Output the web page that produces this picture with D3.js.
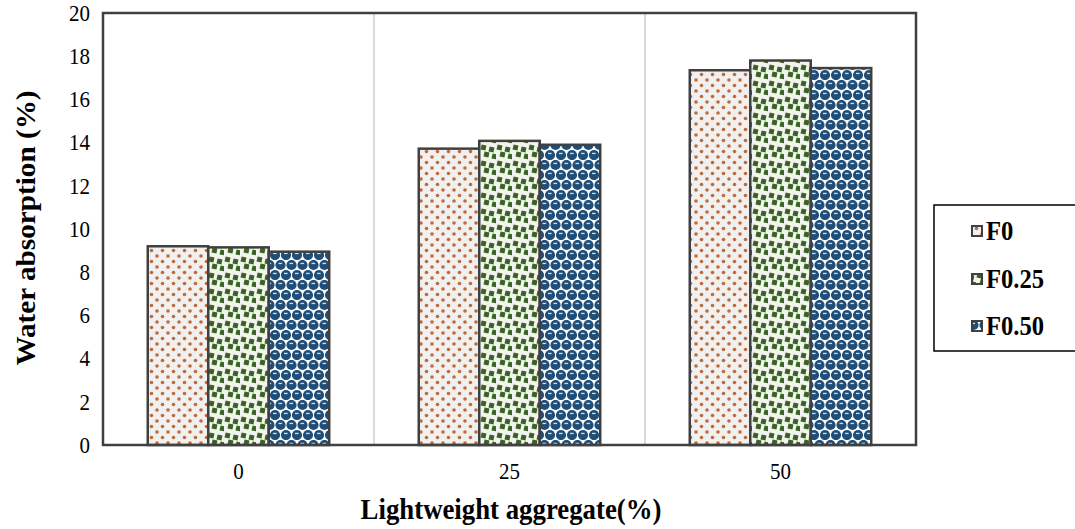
<!DOCTYPE html>
<html><head><meta charset="utf-8">
<script src="https://cdn.jsdelivr.net/npm/d3@7"></script>
<style>body{margin:0;background:#fff}svg{display:block}</style>
</head><body>
<script>
const categories = ["0", "25", "50"];
const seriesNames = ["F0", "F0.25", "F0.50"];
const F0 = [9.2, 13.72, 17.35];
const F025 = [9.15, 14.08, 17.8];
const F050 = [8.95, 13.9, 17.45];
const yTicks = [0, 2, 4, 6, 8, 10, 12, 14, 16, 18, 20];
const seriesValues = [F0, F025, F050];

const SERIF = "Liberation Serif, Tinos, Times New Roman, Times, Noto Serif, DejaVu Serif, serif";
const SY = 1.09; // vertical stretch of the text in the reference
const W = 1075, H = 529;
const m = {l: 103, r: 916, t: 13, b: 445};
const svg = d3.select("body").append("svg").attr("width", W).attr("height", H)
  .attr("font-family", SERIF);
const defs = svg.append("defs");

// F0 pattern: brown dots on light gray
const p0 = defs.append("pattern").attr("id", "pat0").attr("patternUnits", "userSpaceOnUse")
  .attr("width", 22).attr("height", 22);
p0.append("rect").attr("width", 22).attr("height", 22).attr("fill", "#f2f0ef");
[[3, 3], [14, 3], [8.5, 8.5], [19.5, 8.5], [3, 14], [14, 14], [8.5, 19.5], [19.5, 19.5]].forEach(([x, y]) =>
  p0.append("circle").attr("cx", x).attr("cy", y).attr("r", 1.8).attr("fill", "#b96c3e"));

// F0.25 pattern: dark green squares
const p1 = defs.append("pattern").attr("id", "pat1").attr("patternUnits", "userSpaceOnUse")
  .attr("width", 16).attr("height", 16);
p1.append("rect").attr("width", 16).attr("height", 16).attr("fill", "#f3f4f0");
[[1, 1], [9, 3], [4, 8], [12, 10]].forEach(([x, y]) =>
  p1.append("rect").attr("x", x).attr("y", y).attr("width", 5).attr("height", 5)
    .attr("transform", `rotate(12,${x + 2.5},${y + 2.5})`).attr("fill", "#37641f"));

// F0.50 pattern: staggered blue circles with white gaps
const p2 = defs.append("pattern").attr("id", "pat2").attr("patternUnits", "userSpaceOnUse")
  .attr("width", 11).attr("height", 20);
p2.append("rect").attr("width", 11).attr("height", 20).attr("fill", "#ffffff");
[[5.5, 5], [0, 15], [11, 15], [0, -5], [11, -5], [5.5, 25]].forEach(([cx, cy]) => {
  p2.append("circle").attr("cx", cx).attr("cy", cy).attr("r", 5.1).attr("fill", "#1f4e79");
  p2.append("rect").attr("x", cx - 2).attr("y", cy - 2.2).attr("width", 3.6).attr("height", 1.3)
    .attr("fill", "#ffffff").attr("opacity", 0.8);
});

const x = d3.scaleBand().domain(categories).range([m.l, m.r]);
const xs = d3.scaleBand().domain(seriesNames).range([0, x.bandwidth()]).paddingOuter(0.74).paddingInner(0);
const y = d3.scaleLinear().domain([0, 20]).range([m.b, m.t]);

// category separators
svg.append("g").selectAll("line").data(categories.slice(1)).join("line")
  .attr("x1", d => x(d)).attr("x2", d => x(d)).attr("y1", m.t).attr("y2", m.b)
  .attr("stroke", "#d9d9d9").attr("stroke-width", 2);

// bars
const g = svg.append("g");
seriesNames.forEach((s, si) => {
  g.selectAll(".b" + si).data(categories).join("rect")
    .attr("x", c => x(c) + xs(s))
    .attr("y", (c, i) => y(seriesValues[si][i]))
    .attr("width", xs.bandwidth())
    .attr("height", (c, i) => y(0) - y(seriesValues[si][i]))
    .attr("fill", `url(#pat${si})`)
    .attr("stroke", "#404040").attr("stroke-width", 2.5);
});

// frame
svg.append("rect").attr("x", m.l).attr("y", m.t).attr("width", m.r - m.l).attr("height", m.b - m.t)
  .attr("fill", "none").attr("stroke", "#404040").attr("stroke-width", 2.5);

// y axis
const ya = svg.append("g").attr("transform", `translate(${m.l},0)`)
  .call(d3.axisLeft(y).tickValues(yTicks).tickSize(0).tickPadding(13))
  .attr("font-family", SERIF).attr("font-size", 21);
ya.select(".domain").remove();
ya.selectAll("text").attr("fill", "#000").attr("transform", `scale(1,${SY})`);

// x axis
const xa = svg.append("g").attr("transform", `translate(0,${m.b})`)
  .call(d3.axisBottom(x).tickSize(0).tickPadding(16))
  .attr("font-family", SERIF).attr("font-size", 21);
xa.select(".domain").remove();
xa.selectAll("text").attr("fill", "#000").attr("transform", `scale(1,${SY})`);

// titles
svg.append("text").attr("transform", `translate(511,519) scale(1,${SY})`).attr("text-anchor", "middle")
  .attr("font-weight", "bold").attr("font-size", 26.8)
  .text("Lightweight aggregate(%)");
svg.append("text").attr("transform", `translate(35,228) rotate(-90) scale(${SY},1)`).attr("text-anchor", "middle")
  .attr("font-weight", "bold").attr("font-size", 26.8)
  .text("Water absorption (%)");

// legend
svg.append("rect").attr("x", 934).attr("y", 205).attr("width", 150).attr("height", 146)
  .attr("fill", "#fff").attr("stroke", "#000").attr("stroke-width", 1.5);
const legY = [231, 279, 326];
seriesNames.forEach((s, i) => {
  svg.append("rect").attr("x", 972).attr("y", legY[i] - 5).attr("width", 10).attr("height", 10)
    .attr("fill", `url(#pat${i})`).attr("stroke", "#404040").attr("stroke-width", 2);
  svg.append("text").attr("transform", `translate(986,${legY[i] + 9}) scale(1,${SY})`)
    .attr("font-weight", "bold").attr("font-size", 24.6)
    .text(s);
});
</script>
</body></html>
